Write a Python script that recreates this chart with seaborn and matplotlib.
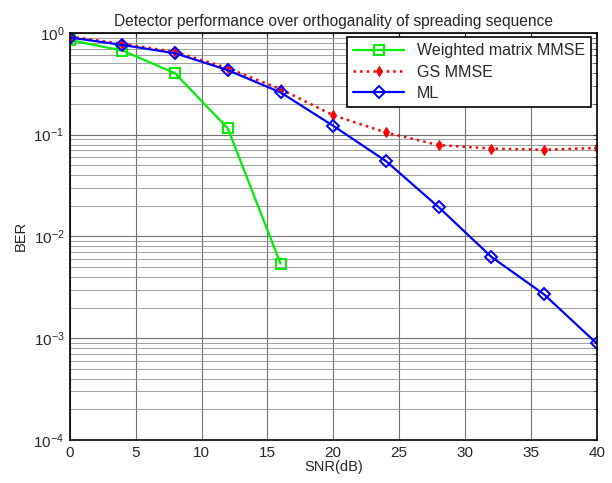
import matplotlib
matplotlib.use("Agg")
import matplotlib.pyplot as plt
import numpy as np
import pandas as pd
import seaborn as sns

# BER vs SNR values
snr_wm = [0, 4, 8, 12, 16]
ber_wm = [0.85, 0.67, 0.40, 0.115, 0.0054]

snr = [0, 4, 8, 12, 16, 20, 24, 28, 32, 36, 40]
ber_gs = [0.92, 0.78, 0.65, 0.45, 0.28, 0.155, 0.105, 0.079, 0.073, 0.071, 0.074]
ber_ml = [0.90, 0.76, 0.63, 0.43, 0.26, 0.122, 0.055, 0.0194, 0.0063, 0.0027, 0.00089]

df_wm = pd.DataFrame({'snr': snr_wm, 'ber': ber_wm})
df_gs = pd.DataFrame({'snr': snr, 'ber': ber_gs})
df_ml = pd.DataFrame({'snr': snr, 'ber': ber_ml})

sns.set_style("white")
plt.rcParams['font.family'] = ['Liberation Sans', 'DejaVu Sans']
plt.rcParams['mathtext.fontset'] = 'custom'
plt.rcParams['mathtext.rm'] = 'Liberation Sans'
plt.rcParams['mathtext.it'] = 'Liberation Sans'

fig = plt.figure(figsize=(6.12, 4.83), dpi=100)
ax = fig.add_axes([0.114, 0.089, 0.861, 0.843])

sns.lineplot(data=df_wm, x='snr', y='ber', ax=ax, color='#00ee00', lw=1.6,
             marker='s', markersize=7.5, markerfacecolor='none',
             markeredgecolor='#00ee00', markeredgewidth=1.4,
             label='Weighted matrix MMSE')
sns.lineplot(data=df_gs, x='snr', y='ber', ax=ax, color='red', lw=1.8,
             linestyle=':', marker='d', markersize=5, markerfacecolor='red',
             markeredgecolor='red', label='GS MMSE')
sns.lineplot(data=df_ml, x='snr', y='ber', ax=ax, color='blue', lw=1.6,
             marker='D', markersize=6.5, markerfacecolor='none',
             markeredgecolor='blue', markeredgewidth=1.4, label='ML')

ax.set_yscale('log')
ax.set_xlim(0, 40)
ax.set_ylim(1e-4, 1)
ax.set_xticks(np.arange(0, 41, 5))
ax.grid(True, which='major', color='#707070', lw=0.8)
ax.grid(True, which='minor', axis='y', color='#909090', lw=0.6)
ax.tick_params(direction='in', which='both', top=True, right=True,
               labelsize=11, length=3, pad=4)
ax.tick_params(which='minor', length=2)
for s in ax.spines.values():
    s.set_color('black')
    s.set_linewidth(1.2)

ax.set_xlabel('SNR(dB)', fontsize=10.5, labelpad=0)
ax.set_ylabel('BER', fontsize=10.5)
ax.set_title('Detector performance over orthoganality of spreading sequence',
             fontsize=11.2, pad=5)

leg = ax.legend(loc='upper right', fontsize=11.5, fancybox=False, framealpha=1,
                edgecolor='black', handlelength=3.2, borderpad=0.4,
                labelspacing=0.4, borderaxespad=0, bbox_to_anchor=(0.99, 0.99))
leg.get_frame().set_linewidth(1.2)

fig.savefig('out.png', dpi=100)
